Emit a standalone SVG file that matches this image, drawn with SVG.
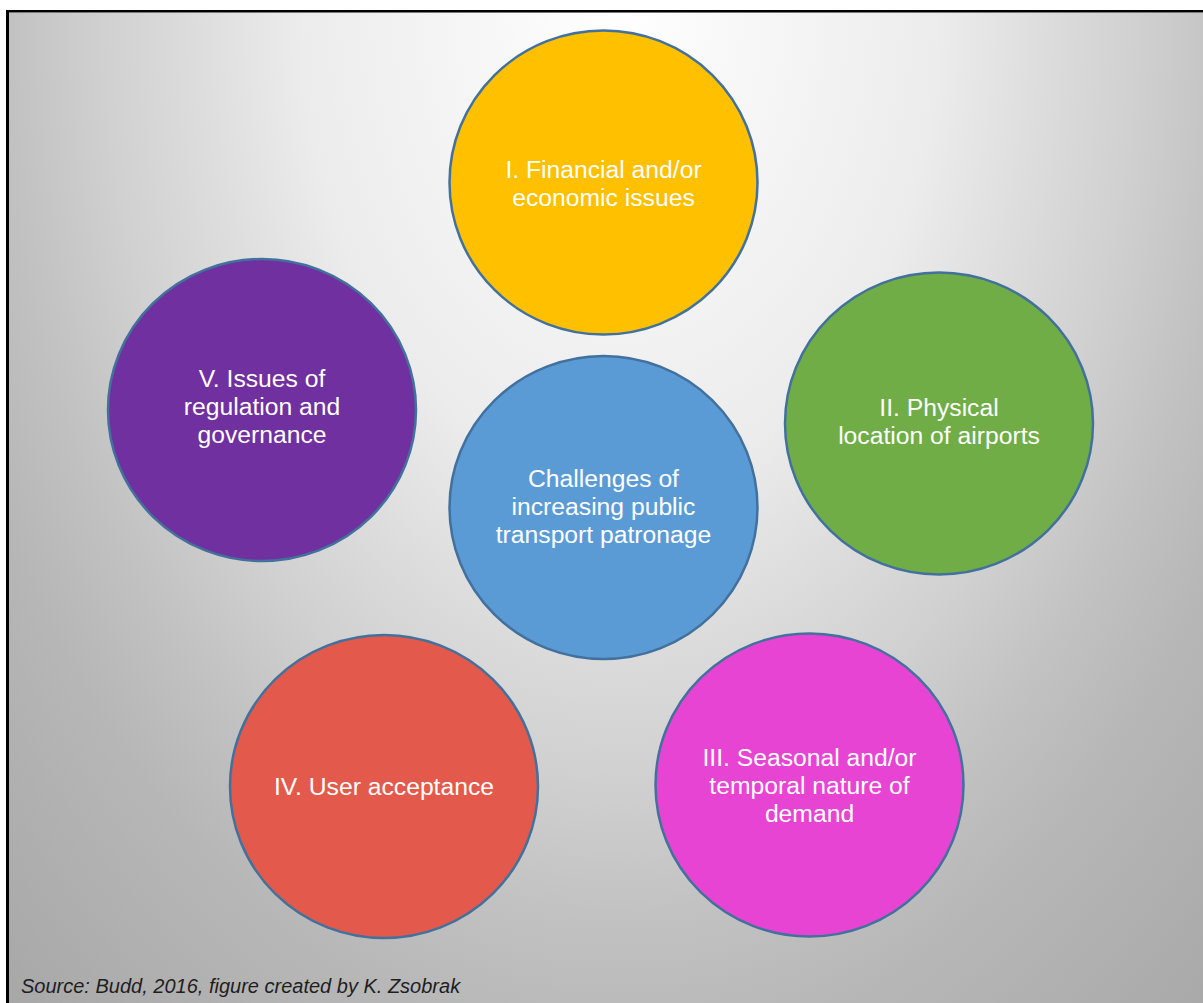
<svg xmlns="http://www.w3.org/2000/svg" width="1203" height="1003" viewBox="0 0 1203 1003">
  <style>
    .node ellipse { stroke: #41719C; stroke-width: 2.5; }
    .node text { font-family: "Liberation Sans", Arial, sans-serif; font-size: 24.7px; fill: #ffffff; text-anchor: middle; }
    .src { font-family: "Liberation Sans", Arial, sans-serif; font-size: 20px; font-style: italic; fill: #1e1e1e; }
  </style>
  <defs>
    <radialGradient id="bg" gradientUnits="userSpaceOnUse" cx="620" cy="0" r="900" gradientTransform="translate(620 0) scale(1 1.5) translate(-620 0)">
      <stop offset="0" stop-color="#ffffff"/>
      <stop offset="0.356" stop-color="#ececec"/>
      <stop offset="0.478" stop-color="#dcdcdc"/>
      <stop offset="0.578" stop-color="#d0d0d0"/>
      <stop offset="0.678" stop-color="#c2c2c2"/>
      <stop offset="0.778" stop-color="#b7b7b7"/>
      <stop offset="1" stop-color="#a8a8a8"/>
    </radialGradient>
  </defs>
  <rect x="0" y="0" width="1203" height="1003" fill="#ffffff"/>
  <rect x="7" y="10" width="1196" height="993" fill="url(#bg)"/>
  <line x1="7" y1="12.5" x2="1203" y2="12.5" stroke="#777" stroke-width="1"/>
  <line x1="6" y1="11" x2="1203" y2="11" stroke="#000" stroke-width="2"/>
  <line x1="7.5" y1="10" x2="7.5" y2="1003" stroke="#000" stroke-width="3"/>

  <g id="connectors"></g>

  <g id="node-center" class="node">
    <ellipse cx="603.5" cy="507.5" rx="154" ry="151.5" fill="#5B9BD5"/>
    <text x="603.5" y="487">Challenges of</text>
    <text x="603.5" y="515">increasing public</text>
    <text x="603.5" y="543">transport patronage</text>
  </g>
  <g id="node-I" class="node">
    <ellipse cx="603.5" cy="182.5" rx="154" ry="152" fill="#FFC000"/>
    <text x="603.5" y="178">I. Financial and/or</text>
    <text x="603.5" y="206">economic issues</text>
  </g>
  <g id="node-II" class="node">
    <ellipse cx="939" cy="423.5" rx="154" ry="151" fill="#70AD47"/>
    <text x="939" y="416">II. Physical</text>
    <text x="939" y="444">location of airports</text>
  </g>
  <g id="node-III" class="node">
    <ellipse cx="809.5" cy="785" rx="154" ry="151.5" fill="#E844D4"/>
    <text x="809.5" y="766">III. Seasonal and/or</text>
    <text x="809.5" y="794">temporal nature of</text>
    <text x="809.5" y="822">demand</text>
  </g>
  <g id="node-IV" class="node">
    <ellipse cx="384" cy="786.5" rx="154" ry="151.5" fill="#E35A4C"/>
    <text x="384" y="795">IV. User acceptance</text>
  </g>
  <g id="node-V" class="node">
    <ellipse cx="262" cy="410" rx="154" ry="151" fill="#7030A0"/>
    <text x="262" y="387">V. Issues of</text>
    <text x="262" y="415">regulation and</text>
    <text x="262" y="443">governance</text>
  </g>

  <text class="src" x="21" y="993">Source: Budd, 2016, figure created by K. Zsobrak</text>
</svg>
